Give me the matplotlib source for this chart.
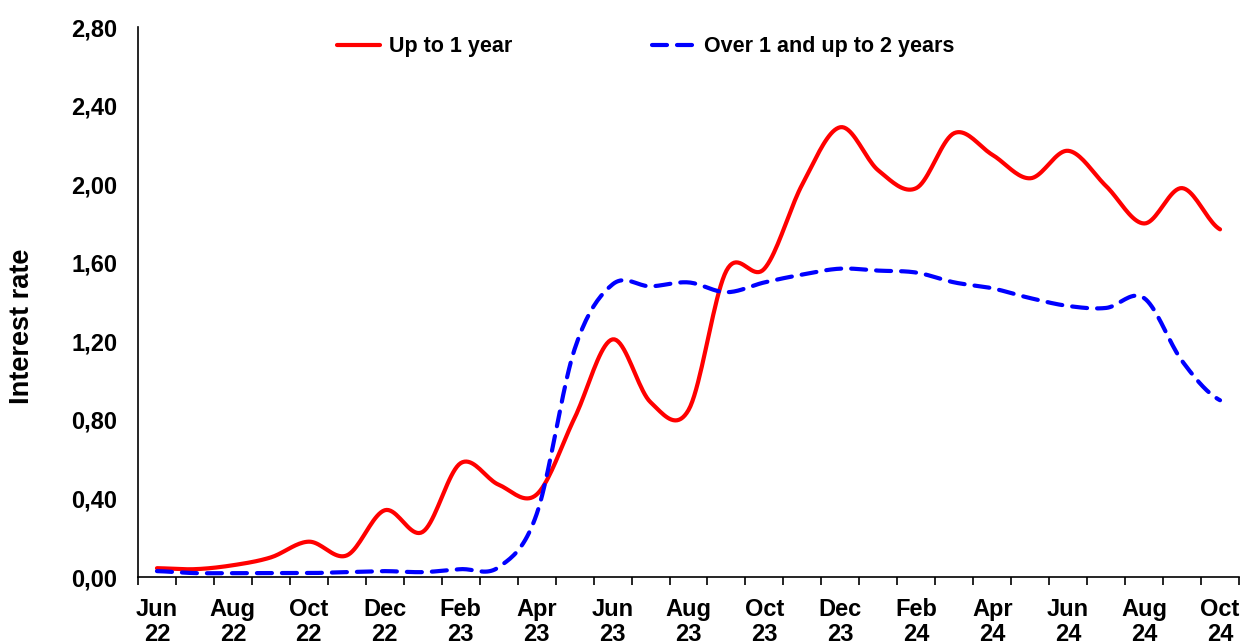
import numpy as np
import matplotlib.pyplot as plt

# months Jun 22 .. Oct 24
months = ['Jun', 'Jul', 'Aug', 'Sep', 'Oct', 'Nov', 'Dec', 'Jan', 'Feb', 'Mar', 'Apr', 'May',
          'Jun', 'Jul', 'Aug', 'Sep', 'Oct', 'Nov', 'Dec', 'Jan', 'Feb', 'Mar', 'Apr', 'May',
          'Jun', 'Jul', 'Aug', 'Sep', 'Oct']
years = ['22'] * 7 + ['23'] * 12 + ['24'] * 10

up_to_1y = [0.045, 0.04, 0.06, 0.10, 0.18, 0.11, 0.34, 0.23, 0.58, 0.47, 0.42, 0.81,
            1.21, 0.89, 0.85, 1.56, 1.57, 2.00, 2.29, 2.07, 1.98, 2.26, 2.15, 2.03,
            2.17, 1.99, 1.80, 1.98, 1.77]
over_1_2y = [0.03, 0.02, 0.02, 0.02, 0.02, 0.025, 0.03, 0.025, 0.04, 0.05, 0.32, 1.16,
             1.49, 1.48, 1.50, 1.45, 1.50, 1.54, 1.57, 1.56, 1.55, 1.50, 1.47, 1.42,
             1.38, 1.37, 1.42, 1.10, 0.90]

series_names = ['Up to 1 year', 'Over 1 and up to 2 years']


# smoothed line like the spreadsheet one (Catmull-Rom through the monthly points)
def smooth(y, n=20):
    y = np.asarray(y, dtype=float)
    x = np.arange(len(y), dtype=float)
    p = np.concatenate([[y[0]], y, [y[-1]]])
    xs, ys = [], []
    for i in range(len(y) - 1):
        p0, p1, p2, p3 = p[i], p[i + 1], p[i + 2], p[i + 3]
        t = np.linspace(0, 1, n, endpoint=False)
        yy = 0.5 * ((2 * p1) + (-p0 + p2) * t + (2 * p0 - 5 * p1 + 4 * p2 - p3) * t ** 2
                    + (-p0 + 3 * p1 - 3 * p2 + p3) * t ** 3)
        xs.append(x[i] + t)
        ys.append(yy)
    xs.append([x[-1]])
    ys.append([y[-1]])
    return np.concatenate(xs), np.concatenate(ys)


plt.rcParams['font.family'] = ['Liberation Sans', 'DejaVu Sans']
plt.rcParams['font.weight'] = 'bold'

fig = plt.figure(figsize=(12.42, 6.44), dpi=100)
ax = fig.add_axes([0.1111, 0.104, 0.8865, 0.854])

x1, y1 = smooth(up_to_1y)
x2, y2 = smooth(over_1_2y)
ax.plot(x1, y1, color='#ff0000', lw=3, label=series_names[0], solid_capstyle='round')
ax.plot(x2, y2, color='#0000ff', lw=3, linestyle=(0, (3.6, 2.4)), label=series_names[1],
        dash_capstyle='round')

ax.set_xlim(-0.5, len(months) - 0.5)
ax.set_ylim(0, 2.8)

# y axis
yt = np.arange(0, 2.81, 0.4)
ax.set_yticks(yt)
ax.set_yticklabels([('%.2f' % v).replace('.', ',') for v in yt], fontsize=17, fontweight='bold')
ax.tick_params(axis='y', length=0, pad=15)
ax.set_ylabel('Interest rate', fontsize=19.5, fontweight='bold')
ax.yaxis.set_label_coords(-0.0935, 0.455)

# x axis: labels every two months, tick marks between months
idx = np.arange(0, len(months), 2)
ax.set_xticks(idx)
ax.set_xticklabels([months[i] + '\n' + years[i] for i in idx], fontsize=17,
                   fontweight='bold', linespacing=1.1)
ax.set_xticks(np.arange(-0.5, len(months)), minor=True)
ax.tick_params(axis='x', which='major', length=0, pad=15)
ax.tick_params(axis='x', which='minor', length=6, width=1.2, direction='out')

for s in ['top', 'right']:
    ax.spines[s].set_visible(False)
for s in ['left', 'bottom']:
    ax.spines[s].set_linewidth(1.2)

ax.legend(loc='center', bbox_to_anchor=(0.461, 0.964), ncol=2, frameon=False,
          prop={'size': 15.5, 'weight': 'bold'}, handlelength=2.0, handletextpad=0.4,
          columnspacing=6.5)

fig.savefig('out.png', dpi=100)
